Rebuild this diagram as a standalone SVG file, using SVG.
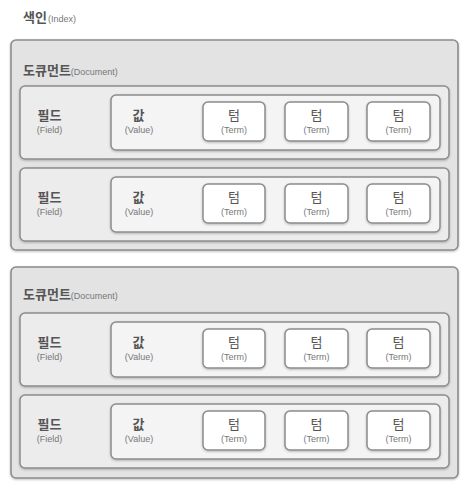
<svg xmlns="http://www.w3.org/2000/svg" width="469" height="489" viewBox="0 0 469 489">
<defs>
<filter id="sh" x="-5%" y="-5%" width="110%" height="115%">
<feDropShadow dx="0" dy="1" stdDeviation="0.8" flood-color="#000" flood-opacity="0.25"/>
</filter>
</defs>
<style>
.doc{fill:#e3e3e3;stroke:#8c8c8c;stroke-width:1.6;filter:url(#sh)}
.fld{fill:#ececec;stroke:#8c8c8c;stroke-width:1.5;filter:url(#sh)}
.val{fill:#f4f4f4;stroke:#8c8c8c;stroke-width:1.5;filter:url(#sh)}
.trm{fill:#ffffff;stroke:#8c8c8c;stroke-width:1.5;filter:url(#sh)}
.k{font-family:"Noto Sans CJK KR","Noto Sans",sans-serif;font-weight:bold;font-size:13px;fill:#555}
.kt{font-family:"Noto Sans CJK KR","Noto Sans",sans-serif;font-weight:normal;font-size:13px;fill:#555;text-anchor:middle}
.s{font-family:"Liberation Sans",Arial,sans-serif;font-weight:normal;font-size:9px;fill:#777}
.sm{font-family:"Liberation Sans",Arial,sans-serif;font-size:9px;fill:#777;text-anchor:middle}
.km{text-anchor:middle}
</style>
<g id="index">
<text x="23" y="22" class="k">색인<tspan class="s" dx="1">(Index)</tspan></text>
</g>
<g id="connectors"></g>

<g id="doc1">
<rect x="11" y="40" width="447" height="210" rx="5" class="doc"/>
<text x="23" y="75" class="k">도큐먼트<tspan class="s">(Document)</tspan></text>
</g>
<g id="doc1-field1" transform="translate(0,86)">
<rect x="20" y="0" width="429" height="73" rx="5" class="fld"/>
<text x="49.5" y="34" class="k km">필드</text>
<text x="49.5" y="47" class="sm">(Field)</text>
<rect x="111" y="9" width="329" height="55" rx="5" class="val"/>
<text x="138.5" y="34" class="k km">값</text>
<text x="139" y="47" class="sm">(Value)</text>
<rect x="203" y="16" width="62" height="39" rx="5" class="trm"/>
<text x="234" y="34" class="kt">텀</text><text x="234" y="47" class="sm">(Term)</text>
<rect x="285" y="16" width="63" height="39" rx="5" class="trm"/>
<text x="316.5" y="34" class="kt">텀</text><text x="316.5" y="47" class="sm">(Term)</text>
<rect x="367" y="16" width="63" height="39" rx="5" class="trm"/>
<text x="398.5" y="34" class="kt">텀</text><text x="398.5" y="47" class="sm">(Term)</text>
</g>
<g id="doc1-field2" transform="translate(0,168)">
<rect x="20" y="0" width="429" height="73" rx="5" class="fld"/>
<text x="49.5" y="34" class="k km">필드</text>
<text x="49.5" y="47" class="sm">(Field)</text>
<rect x="111" y="9" width="329" height="55" rx="5" class="val"/>
<text x="138.5" y="34" class="k km">값</text>
<text x="139" y="47" class="sm">(Value)</text>
<rect x="203" y="16" width="62" height="39" rx="5" class="trm"/>
<text x="234" y="34" class="kt">텀</text><text x="234" y="47" class="sm">(Term)</text>
<rect x="285" y="16" width="63" height="39" rx="5" class="trm"/>
<text x="316.5" y="34" class="kt">텀</text><text x="316.5" y="47" class="sm">(Term)</text>
<rect x="367" y="16" width="63" height="39" rx="5" class="trm"/>
<text x="398.5" y="34" class="kt">텀</text><text x="398.5" y="47" class="sm">(Term)</text>
</g>

<g id="doc2">
<rect x="11" y="267" width="447" height="211" rx="5" class="doc"/>
<text x="23" y="299" class="k">도큐먼트<tspan class="s">(Document)</tspan></text>
</g>
<g id="doc2-field1" transform="translate(0,313)">
<rect x="20" y="0" width="429" height="73" rx="5" class="fld"/>
<text x="49.5" y="34" class="k km">필드</text>
<text x="49.5" y="47" class="sm">(Field)</text>
<rect x="111" y="9" width="329" height="55" rx="5" class="val"/>
<text x="138.5" y="34" class="k km">값</text>
<text x="139" y="47" class="sm">(Value)</text>
<rect x="203" y="16" width="62" height="39" rx="5" class="trm"/>
<text x="234" y="34" class="kt">텀</text><text x="234" y="47" class="sm">(Term)</text>
<rect x="285" y="16" width="63" height="39" rx="5" class="trm"/>
<text x="316.5" y="34" class="kt">텀</text><text x="316.5" y="47" class="sm">(Term)</text>
<rect x="367" y="16" width="63" height="39" rx="5" class="trm"/>
<text x="398.5" y="34" class="kt">텀</text><text x="398.5" y="47" class="sm">(Term)</text>
</g>
<g id="doc2-field2" transform="translate(0,395)">
<rect x="20" y="0" width="429" height="73" rx="5" class="fld"/>
<text x="49.5" y="34" class="k km">필드</text>
<text x="49.5" y="47" class="sm">(Field)</text>
<rect x="111" y="9" width="329" height="55" rx="5" class="val"/>
<text x="138.5" y="34" class="k km">값</text>
<text x="139" y="47" class="sm">(Value)</text>
<rect x="203" y="16" width="62" height="39" rx="5" class="trm"/>
<text x="234" y="34" class="kt">텀</text><text x="234" y="47" class="sm">(Term)</text>
<rect x="285" y="16" width="63" height="39" rx="5" class="trm"/>
<text x="316.5" y="34" class="kt">텀</text><text x="316.5" y="47" class="sm">(Term)</text>
<rect x="367" y="16" width="63" height="39" rx="5" class="trm"/>
<text x="398.5" y="34" class="kt">텀</text><text x="398.5" y="47" class="sm">(Term)</text>
</g>
</svg>
